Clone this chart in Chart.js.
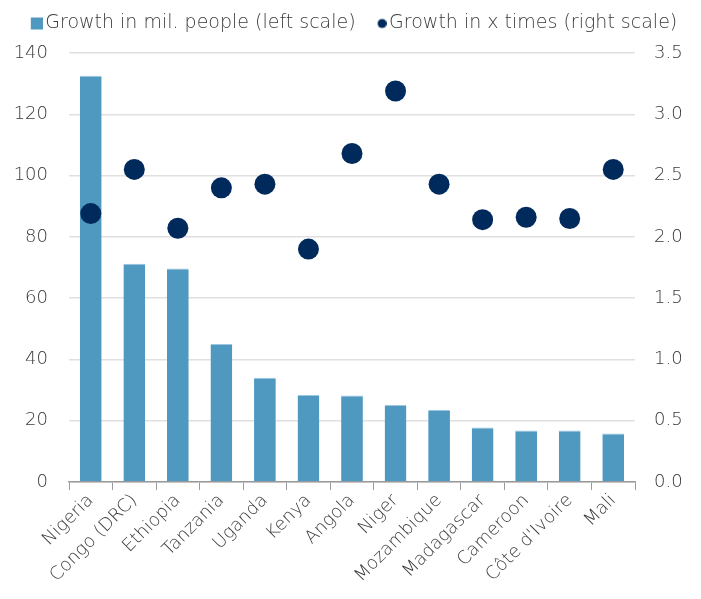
<!DOCTYPE html>
<html>
<head>
<meta charset="utf-8">
<script src="https://cdn.jsdelivr.net/npm/chart.js@4"></script>
<style>
  html, body { margin: 0; padding: 0; background: #fff; }
  #wrap { width: 701px; height: 599px; }
</style>
</head>
<body>
<div id="wrap"><canvas id="growthChart"></canvas></div>
<script>
const countries = ['Nigeria', 'Congo (DRC)', 'Ethiopia', 'Tanzania', 'Uganda', 'Kenya', 'Angola',
    'Niger', 'Mozambique', 'Madagascar', 'Cameroon', "Côte d'Ivoire", 'Mali'];
const growthMillions = [132.6, 71.2, 69.7, 45.0, 34.0, 28.4, 28.2, 25.1, 23.5, 17.8, 16.8, 16.8, 15.8];
const growthTimes = [2.19, 2.55, 2.07, 2.40, 2.43, 1.90, 2.68, 3.19, 2.43, 2.14, 2.16, 2.15, 2.55];

const barColor = '#4f99c1';
const dotColor = '#002a5c';
const textColor = '#3a3a3a';
const axisFont = { family: 'DejaVu Sans', size: 18, weight: '200' };
const legendFont = { family: 'DejaVu Sans', size: 19, weight: '200' };

// small legend markers, drawn at the right edge of the canvas so they sit close to the text
function legendMarker(shape, color, size) {
    const c = document.createElement('canvas');
    c.width = 26;
    c.height = 14;
    const g = c.getContext('2d');
    g.fillStyle = color;
    if (shape === 'rect') {
        g.fillRect(26 - size, (14 - size) / 2, size, size);
    } else {
        g.beginPath();
        g.arc(26 - size / 2, 7, size / 2, 0, Math.PI * 2);
        g.fill();
    }
    return c;
}
const barMarker = legendMarker('rect', barColor, 12);
const dotMarker = legendMarker('circle', dotColor, 9);

// extra room between the legend and the plot
const legendGap = {
    id: 'legendGap',
    beforeInit(chart) {
        const fit = chart.legend.fit;
        chart.legend.fit = function() {
            fit.call(this);
            this.height += 10;
        };
    }
};

new Chart(document.getElementById('growthChart'), {
    type: 'bar',
    data: {
        labels: countries,
        datasets: [
            {
                label: 'Growth in mil. people (left scale)',
                data: growthMillions,
                backgroundColor: barColor,
                borderColor: '#9cc6df',
                borderWidth: { top: 1, left: 0, right: 0, bottom: 0 },
                barPercentage: 0.5,
                categoryPercentage: 1,
                yAxisID: 'y',
                order: 2
            },
            {
                type: 'line',
                label: 'Growth in x times (right scale)',
                data: growthTimes,
                showLine: false,
                pointRadius: 10.5,
                pointBackgroundColor: dotColor,
                pointBorderWidth: 0,
                backgroundColor: dotColor,
                borderColor: dotColor,
                yAxisID: 'y1',
                order: 1
            }
        ]
    },
    options: {
        responsive: true,
        maintainAspectRatio: false,
        animation: false,
        layout: { padding: { top: 2, left: 0, right: 0, bottom: 0 } },
        plugins: {
            legend: {
                position: 'top',
                labels: {
                    usePointStyle: true,
                    pointStyleWidth: 12,
                    boxHeight: 12,
                    padding: 12,
                    color: textColor,
                    font: legendFont,
                    sort: (a, b) => a.datasetIndex - b.datasetIndex,
                    generateLabels: chart => {
                        const items = Chart.defaults.plugins.legend.labels.generateLabels(chart);
                        items.forEach(item => {
                            item.pointStyle = item.datasetIndex === 0 ? barMarker : dotMarker;
                        });
                        return items;
                    }
                }
            },
            tooltip: { enabled: false }
        },
        scales: {
            x: {
                offset: true,
                grid: {
                    offset: true,
                    drawOnChartArea: false,
                    color: '#9a9a9a',
                    tickLength: 8
                },
                border: { color: '#9a9a9a', width: 1.5 },
                ticks: {
                    color: textColor,
                    font: axisFont,
                    maxRotation: 45,
                    minRotation: 45,
                    autoSkip: false,
                    padding: 0
                },
                afterFit: scale => { scale.height = 117; }
            },
            y: {
                position: 'left',
                min: 0,
                max: 140,
                ticks: { stepSize: 20, color: textColor, font: axisFont, padding: 21 },
                grid: { color: '#e0e0e0', lineWidth: 1.5, drawTicks: false },
                border: { display: false },
                afterFit: scale => { scale.width = 69; }
            },
            y1: {
                position: 'right',
                min: 0,
                max: 3.5,
                ticks: {
                    stepSize: 0.5,
                    color: textColor,
                    font: axisFont,
                    padding: 19,
                    callback: v => v.toFixed(1)
                },
                grid: { drawOnChartArea: false, drawTicks: false },
                border: { display: false },
                afterFit: scale => { scale.width = 66; }
            }
        }
    },
    plugins: [legendGap]
});
</script>
</body>
</html>
